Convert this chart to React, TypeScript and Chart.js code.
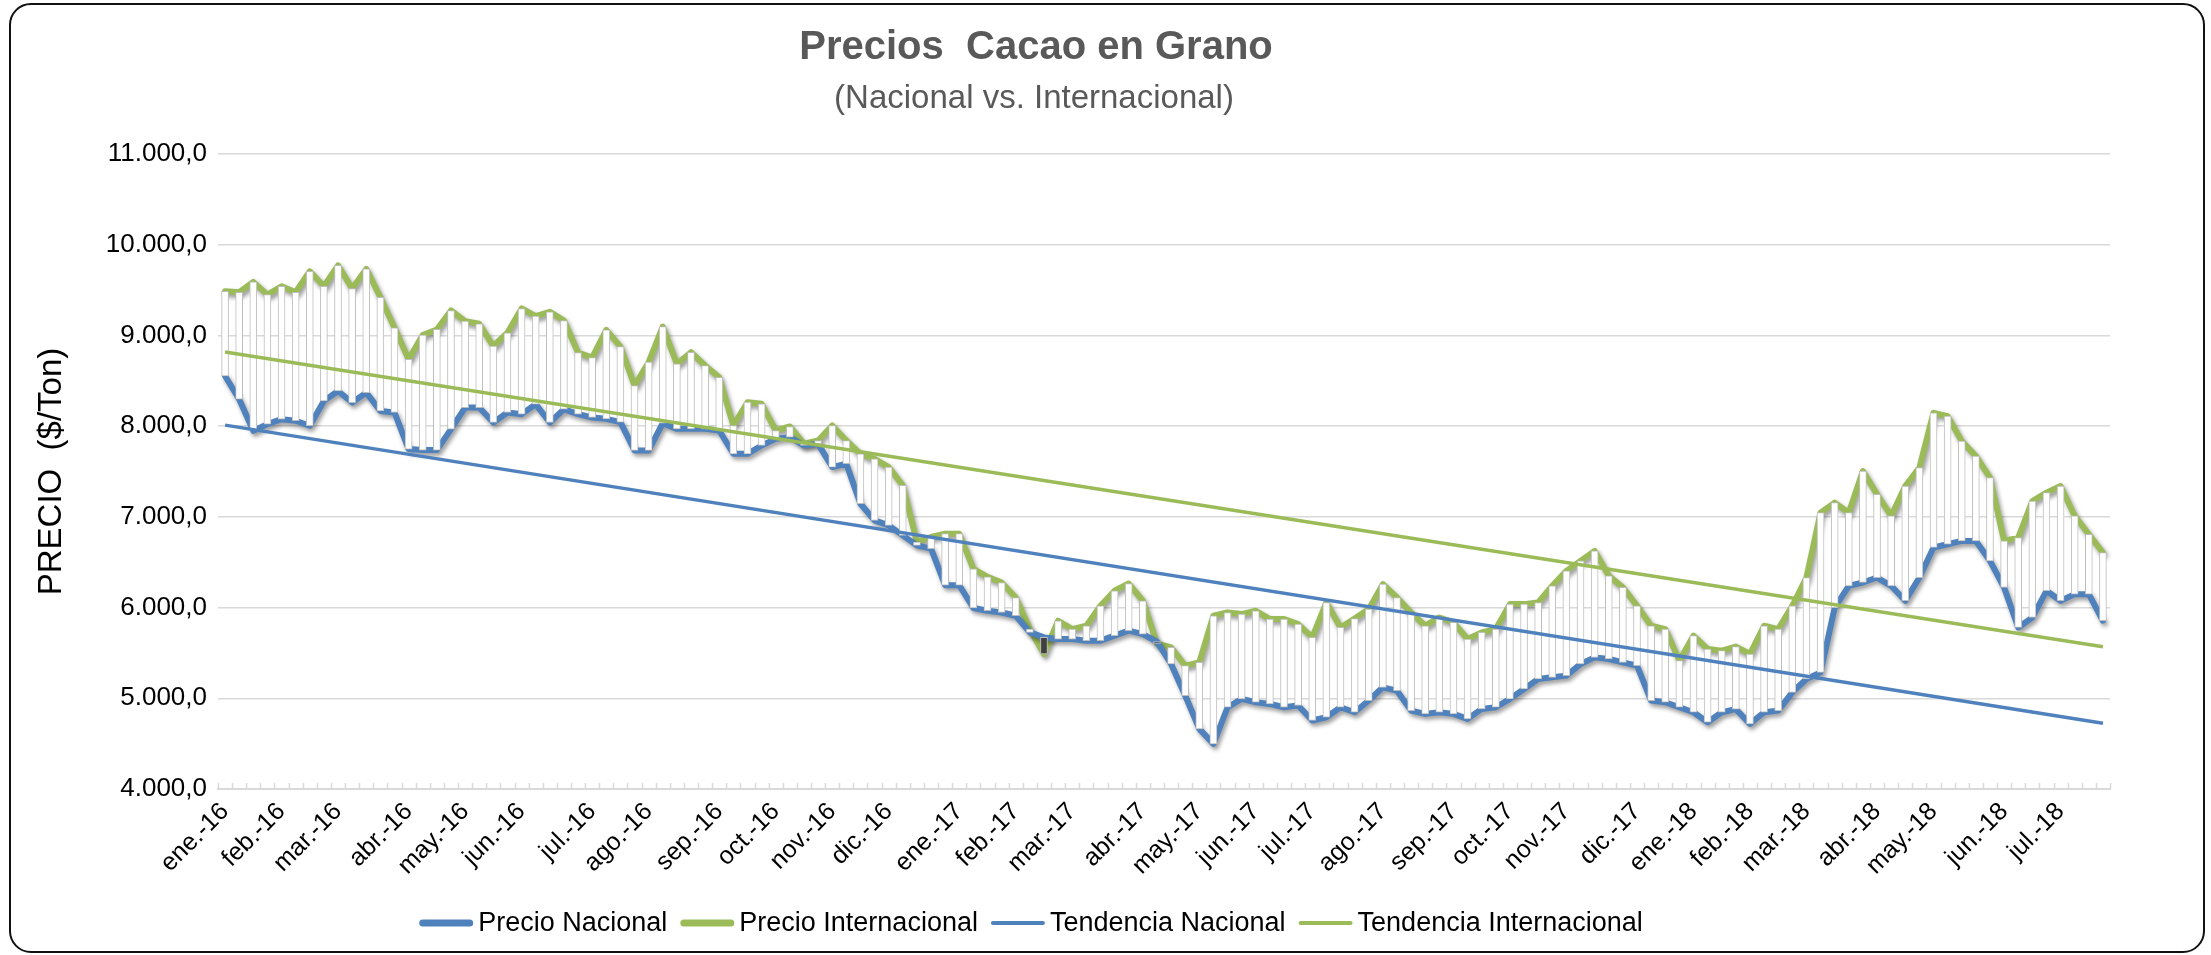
import React, { useEffect, useRef } from 'react';
import { Chart, registerables } from 'chart.js';

Chart.register(...registerables);

// ---- DATA ----
const monthLabels = [
  'ene.-16', 'feb.-16', 'mar.-16', 'abr.-16', 'may.-16', 'jun.-16', 'jul.-16', 'ago.-16', 'sep.-16', 'oct.-16', 'nov.-16', 'dic.-16',
  'ene.-17', 'feb.-17', 'mar.-17', 'abr.-17', 'may.-17', 'jun.-17', 'jul.-17', 'ago.-17', 'sep.-17', 'oct.-17', 'nov.-17', 'dic.-17',
  'ene.-18', 'feb.-18', 'mar.-18', 'abr.-18', 'may.-18', 'jun.-18', 'jul.-18',
];
// number of weekly observations under each month label
const weeksPerMonth = [
  4, 4, 5, 4, 4, 5, 4, 5, 4, 4, 4, 5,
  4, 4, 5, 4, 4, 4, 5, 5, 4, 4, 5, 4,
  4, 4, 5, 4, 5, 4, 4,
];

const precioNacional = [
  8553, 8297, 7949, 8022, 8077, 8059, 8004, 8278, 8388, 8260,
  8370, 8168, 8150, 7747, 7736, 7736, 7967, 8205, 8205, 8040,
  8150, 8132, 8242, 8040, 8187, 8132, 8095, 8081, 8044, 7732,
  7732, 8033, 7970, 7970, 7970, 7952, 7695, 7695, 7787, 7860,
  7879, 7787, 7805, 7549, 7585, 7145, 6961, 6906, 6796, 6686,
  6650, 6246, 6246, 5995, 5965, 5946, 5910, 5726, 5671, 5653,
  5653, 5635, 5635, 5690, 5745, 5708, 5625, 5378, 5030, 4663,
  4498, 4901, 4993, 4956, 4938, 4901, 4920, 4755, 4791, 4901,
  4846, 4975, 5121, 5084, 4864, 4828, 4846, 4828, 4773, 4883,
  4901, 4993, 5103, 5213, 5231, 5250, 5378, 5451, 5433, 5396,
  5360, 4975, 4956, 4901, 4846, 4736, 4846, 4880, 4718, 4846,
  4864, 5066, 5213, 5286, 6000, 6240, 6276, 6331, 6240, 6075,
  6331, 6662, 6698, 6735, 6735, 6515, 6221, 5781, 5891, 6185,
  6075, 6148, 6148, 5855,
];

const precioInternacional = [
  9487, 9476, 9590, 9450, 9542, 9476, 9707, 9542, 9773, 9516,
  9733, 9421, 9084, 8736, 9004, 9066, 9275, 9158, 9128, 8883,
  9029, 9297, 9212, 9260, 9165, 8810, 8755, 9061, 8877, 8448,
  8705, 9097, 8686, 8815, 8668, 8539, 8007, 8264, 8246, 7952,
  7996, 7806, 7842, 8007, 7842, 7695, 7640, 7549, 7347, 6723,
  6778, 6815, 6815, 6426, 6339, 6276, 6111, 5763, 5488, 5855,
  5763, 5800, 6020, 6185, 6265, 6075, 5605, 5561, 5360, 5396,
  5910, 5946, 5928, 5965, 5873, 5873, 5818, 5671, 6056, 5781,
  5880, 5983, 6258, 6111, 5946, 5800, 5891, 5836, 5653, 5726,
  5763, 6038, 6038, 6056, 6240, 6405, 6515, 6625, 6350, 6222,
  6020, 5800, 5763, 5415, 5690, 5543, 5525, 5570, 5488, 5800,
  5763, 6020, 6331, 7046, 7157, 7046, 7505, 7248, 7010, 7340,
  7542, 8147, 8110, 7835, 7670, 7432, 6735, 6771, 7175, 7267,
  7340, 7010, 6808, 6606,
];

// linear trend lines: value at first week, value at last week
const tendenciaNacional = [8011, 4725];
const tendenciaInternacional = [8817, 5569];

const yMin = 4000;
const yMax = 11000;
const yStep = 1000;

// ---- STYLE ----
const BLUE = '#4F81BD';
const GREEN = '#9BBB59';
const FONT = '"Liberation Sans", Arial, Helvetica, sans-serif';
const GRID = '#d9d9d9';

const fmt = (v: number) => {
  const s = Math.round(v).toString();
  const withDots = s.replace(/\B(?=(\d{3})+(?!\d))/g, '.');
  return withDots + ',0';
};

const categories: string[] = [];
monthLabels.forEach((m, k) => {
  for (let w = 0; w < weeksPerMonth[k]; w++) categories.push(w === 0 ? m : '');
});
const nCat = categories.length;

const endpoints = (pair: number[]) =>
  categories.map((_, i) => (i === 0 ? pair[0] : i === nCat - 1 ? pair[1] : null));

const decorPlugin = {
  id: 'decor',
  beforeDatasetDraw(chart: any, args: any) {
    const ds = chart.data.datasets[args.index];
    if (ds && ds.shadow) {
      const ctx = chart.ctx;
      ctx.save();
      ctx.shadowColor = 'rgba(0,0,0,0.4)';
      ctx.shadowBlur = 4;
      ctx.shadowOffsetX = 2;
      ctx.shadowOffsetY = 3;
    }
  },
  afterDatasetDraw(chart: any, args: any) {
    const ds = chart.data.datasets[args.index];
    if (ds && ds.shadow) chart.ctx.restore();
  },
  afterDraw(chart: any) {
    const ctx = chart.ctx;
    const xs = chart.scales.x;
    const area = chart.chartArea;
    // inside tick marks on the category axis (between categories)
    ctx.save();
    ctx.strokeStyle = GRID;
    ctx.lineWidth = 1.5;
    const p0 = xs.getPixelForValue(0);
    const p1 = xs.getPixelForValue(1);
    const step = p1 - p0;
    ctx.beginPath();
    for (let i = 0; i <= nCat; i++) {
      const x = Math.round(p0 + (i - 0.5) * step) + 0.5;
      ctx.moveTo(x, area.bottom);
      ctx.lineTo(x, area.bottom - 6);
    }
    ctx.stroke();

    // titles
    ctx.fillStyle = '#595959';
    ctx.textAlign = 'center';
    ctx.textBaseline = 'middle';
    ctx.font = `bold 40px ${FONT}`;
    ctx.fillText('Precios  Cacao en Grano', 1036, 48);
    ctx.font = `33px ${FONT}`;
    ctx.fillText('(Nacional vs. Internacional)', 1034, 99);

    // legend
    const items = chart.data.datasets
      .filter((d: any) => d.legendIndex !== undefined)
      .sort((a: any, b: any) => a.legendIndex - b.legendIndex);
    ctx.font = `27px ${FONT}`;
    const sample = 54;
    const gapText = 5;
    const gapItem = 13;
    const widths = items.map((d: any) => ctx.measureText(d.label).width);
    let total = 0;
    widths.forEach((w: number, k: number) => {
      total += sample + gapText + w + (k < items.length - 1 ? gapItem : 0);
    });
    let x = 1031 - total / 2;
    const y = 923;
    ctx.textAlign = 'left';
    ctx.fillStyle = '#000';
    items.forEach((d: any, k: number) => {
      ctx.beginPath();
      ctx.strokeStyle = d.borderColor;
      ctx.lineWidth = d.legendWidth;
      ctx.lineCap = 'round';
      ctx.moveTo(x + d.legendWidth / 2, y);
      ctx.lineTo(x + sample - d.legendWidth / 2, y);
      ctx.stroke();
      ctx.fillText(d.label, x + sample + gapText, y + 1);
      x += sample + gapText + widths[k] + gapItem;
    });
    ctx.restore();
  },
};

export default function App() {
  const ref = useRef<HTMLCanvasElement | null>(null);

  useEffect(() => {
    if (!ref.current) return;
    const barData = precioNacional.map((v, i) => [v, precioInternacional[i]]);
    const barColors = precioNacional.map((v, i) => (precioInternacional[i] >= v ? '#ffffff' : '#404040'));

    const chart = new Chart(ref.current, {
      type: 'bar',
      data: {
        labels: categories,
        datasets: [
          {
            type: 'line',
            label: 'Tendencia Nacional',
            data: endpoints(tendenciaNacional),
            borderColor: BLUE,
            borderWidth: 3.5,
            pointRadius: 0,
            spanGaps: true,
            order: 0,
            legendIndex: 2,
            legendWidth: 4,
          } as any,
          {
            type: 'line',
            label: 'Tendencia Internacional',
            data: endpoints(tendenciaInternacional),
            borderColor: GREEN,
            borderWidth: 3.5,
            pointRadius: 0,
            spanGaps: true,
            order: 0,
            legendIndex: 3,
            legendWidth: 4,
          } as any,
          {
            type: 'bar',
            label: 'Barras',
            data: barData,
            backgroundColor: barColors,
            borderColor: '#bdbdbd',
            borderWidth: 1,
            borderSkipped: false,
            barThickness: 7,
            order: 1,
          } as any,
          {
            type: 'line',
            label: 'Precio Nacional',
            data: precioNacional,
            borderColor: BLUE,
            borderWidth: 6,
            pointRadius: 0,
            tension: 0,
            borderJoinStyle: 'round',
            borderCapStyle: 'round',
            order: 2,
            shadow: true,
            legendIndex: 0,
            legendWidth: 7,
          } as any,
          {
            type: 'line',
            label: 'Precio Internacional',
            data: precioInternacional,
            borderColor: GREEN,
            borderWidth: 6,
            pointRadius: 0,
            tension: 0,
            borderJoinStyle: 'round',
            borderCapStyle: 'round',
            order: 2,
            shadow: true,
            legendIndex: 1,
            legendWidth: 7,
          } as any,
        ],
      },
      options: {
        responsive: false,
        animation: false,
        devicePixelRatio: 1,
        layout: { padding: { left: 0, right: 101, top: 154, bottom: 46 } },
        plugins: {
          legend: { display: false },
          title: { display: false },
          tooltip: { enabled: false },
        },
        scales: {
          x: {
            type: 'category',
            offset: true,
            grid: { display: false, drawTicks: false },
            border: { display: true, color: GRID, width: 2 },
            ticks: {
              autoSkip: false,
              maxRotation: 45,
              minRotation: 45,
              color: '#000',
              padding: 8,
              font: { family: FONT, size: 25 },
            },
            afterFit: (s: any) => {
              s.height = 120;
            },
          },
          y: {
            min: yMin,
            max: yMax,
            ticks: {
              stepSize: yStep,
              callback: (v: any) => fmt(Number(v)),
              color: '#000',
              padding: 11,
              font: { family: FONT, size: 26 },
            },
            grid: { color: GRID, lineWidth: 1.5, drawTicks: false },
            border: { display: false },
            title: {
              display: true,
              text: 'PRECIO  ($/Ton)',
              color: '#000',
              font: { family: FONT, size: 33 },
              padding: { top: 32, bottom: 0 },
            },
            afterFit: (s: any) => {
              s.width = 218;
            },
          },
        },
      } as any,
      plugins: [decorPlugin],
    });
    return () => chart.destroy();
  }, []);

  return (
    <>
      <div
        style={{
          position: 'fixed',
          left: 9,
          top: 3,
          width: 2196,
          height: 950,
          boxSizing: 'border-box',
          border: '2px solid #111',
          borderRadius: 22,
          background: '#fff',
        }}
      />
      <canvas
        ref={ref}
        width={2211}
        height={955}
        style={{ position: 'fixed', left: 0, top: 0, width: 2211, height: 955 }}
      />
    </>
  );
}
